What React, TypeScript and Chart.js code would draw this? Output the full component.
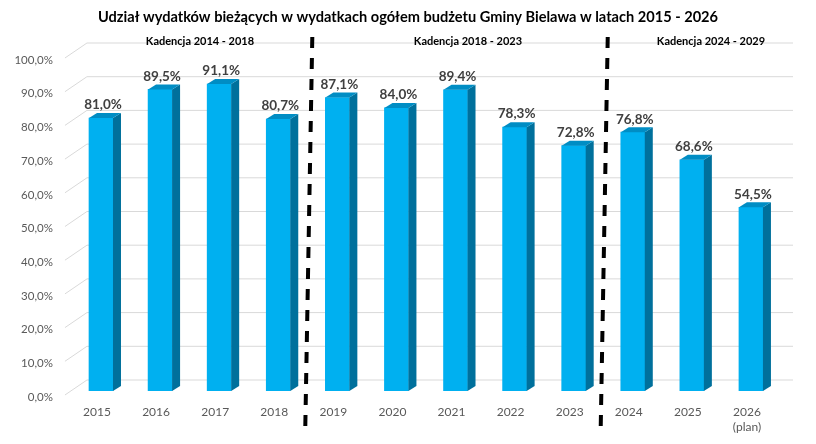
import { useEffect, useRef } from "react"
import { Chart, registerables } from "chart.js"

Chart.register(...registerables)

const title = "Udział wydatków bieżących w wydatkach ogółem budżetu Gminy Bielawa w latach 2015 - 2026"
const years: (string | string[])[] = [
  "2015", "2016", "2017", "2018", "2019", "2020",
  "2021", "2022", "2023", "2024", "2025", ["2026", "(plan)"],
]
const shares = [81.0, 89.5, 91.1, 80.7, 87.1, 84.0, 89.4, 78.3, 72.8, 76.8, 68.6, 54.5]
const terms = ["Kadencja 2014 - 2018", "Kadencja 2018 - 2023", "Kadencja 2024 - 2029"]
// term boundaries lie between these category indexes
const termBreaks = [3.5, 8.5]

const fmt = (v: number) => v.toFixed(1).replace(".", ",") + "%"

// fake 3D depth of the bars and the back wall
const BAR_DX = 8
const BAR_DY = 5

const depthPlugin = {
  id: "depth3d",
  beforeDatasetsDraw(chart: any) {
    const { ctx, chartArea, scales } = chart
    const y = scales.y
    ctx.save()
    ctx.strokeStyle = "#D9D9D9"
    ctx.lineWidth = 1
    y.ticks.forEach((t: any) => {
      const yf = y.getPixelForValue(t.value)
      ctx.beginPath()
      ctx.moveTo(chartArea.left - 6.5, yf + 4)
      ctx.lineTo(chartArea.left + 15.5, yf - 11)
      ctx.lineTo(chartArea.right + 12.5, yf - 11)
      ctx.stroke()
    })
    ctx.restore()
  },
  afterDatasetsDraw(chart: any) {
    const { ctx, scales } = chart
    const meta = chart.getDatasetMeta(0)
    ctx.save()
    meta.data.forEach((bar: any, i: number) => {
      const { x, y, base, width } = bar.getProps(["x", "y", "base", "width"], true)
      const l = x - width / 2
      const r = x + width / 2
      // side face
      ctx.fillStyle = "#00709C"
      ctx.beginPath()
      ctx.moveTo(r, y)
      ctx.lineTo(r + BAR_DX, y - BAR_DY)
      ctx.lineTo(r + BAR_DX, base - BAR_DY)
      ctx.lineTo(r, base)
      ctx.closePath()
      ctx.fill()
      // top face
      ctx.fillStyle = "#008DC4"
      ctx.beginPath()
      ctx.moveTo(l, y)
      ctx.lineTo(l + BAR_DX, y - BAR_DY)
      ctx.lineTo(r + BAR_DX, y - BAR_DY)
      ctx.lineTo(r, y)
      ctx.closePath()
      ctx.fill()
      // value label
      ctx.fillStyle = "#404040"
      ctx.font = "bold 13.5px Lato"
      ctx.textAlign = "center"
      ctx.textBaseline = "middle"
      ctx.fillText(fmt(shares[i]), x + 2, y - 13)
    })

    // dashed term separators
    const xs = scales.x
    ctx.strokeStyle = "#000000"
    ctx.lineWidth = 4
    ctx.setLineDash([11, 10])
    termBreaks.forEach((b) => {
      const bx = (xs.getPixelForValue(Math.floor(b)) + xs.getPixelForValue(Math.ceil(b))) / 2
      ctx.beginPath()
      ctx.moveTo(bx + 4.5, 37)
      ctx.lineTo(bx - 2.5, 426)
      ctx.stroke()
    })
    ctx.setLineDash([])

    // term captions
    ctx.fillStyle = "#000000"
    ctx.font = "bold 11px Lato"
    ctx.textAlign = "center"
    ctx.textBaseline = "middle"
    const termX = [200, 468, 711]
    terms.forEach((t, i) => ctx.fillText(t, termX[i], 41))

    // title
    ctx.font = "bold 14.6px Lato"
    ctx.fillText(title, 408, 17)
    ctx.restore()
  },
}

export default function App() {
  const chartRef = useRef<HTMLCanvasElement>(null)
  const chartInstance = useRef<Chart | null>(null)

  useEffect(() => {
    if (!chartRef.current) return
    if (chartInstance.current) chartInstance.current.destroy()
    const ctx = chartRef.current.getContext("2d")
    if (!ctx) return

    Chart.defaults.font.family = "Lato"

    chartInstance.current = new Chart(ctx, {
      type: "bar",
      data: {
        labels: years,
        datasets: [
          {
            label: "Udział",
            data: shares,
            backgroundColor: "#00B0F0",
            borderWidth: 0,
            barThickness: 24,
          },
        ],
      },
      options: {
        responsive: true,
        maintainAspectRatio: false,
        animation: false,
        layout: { padding: { top: 54, left: 0, right: 35.5, bottom: 0 } },
        plugins: {
          legend: { display: false },
          tooltip: { enabled: false },
        },
        scales: {
          x: {
            grid: { display: false, drawTicks: false },
            border: { display: false },
            ticks: {
              color: "#595959",
              font: { size: 12, lineHeight: 1.25 },
              padding: 14,
              labelOffset: -4,
              maxRotation: 0,
              autoSkip: false,
            },
            afterFit: (scale: any) => {
              scale.height = 53
            },
          },
          y: {
            min: 0,
            max: 100,
            grid: { display: false, drawTicks: false },
            border: { display: false },
            ticks: {
              stepSize: 10,
              color: "#595959",
              font: { size: 11.5 },
              padding: 18.5,
              labelOffset: 6,
              callback: (value) => fmt(Number(value)),
            },
            afterFit: (scale: any) => {
              scale.width = 71.45
            },
          },
        },
      },
      plugins: [depthPlugin],
    })

    return () => {
      if (chartInstance.current) {
        chartInstance.current.destroy()
        chartInstance.current = null
      }
    }
  }, [])

  return (
    <div style={{ position: "fixed", left: 0, top: 0, width: 816, height: 444, background: "#fff" }}>
      <canvas ref={chartRef} />
    </div>
  )
}
